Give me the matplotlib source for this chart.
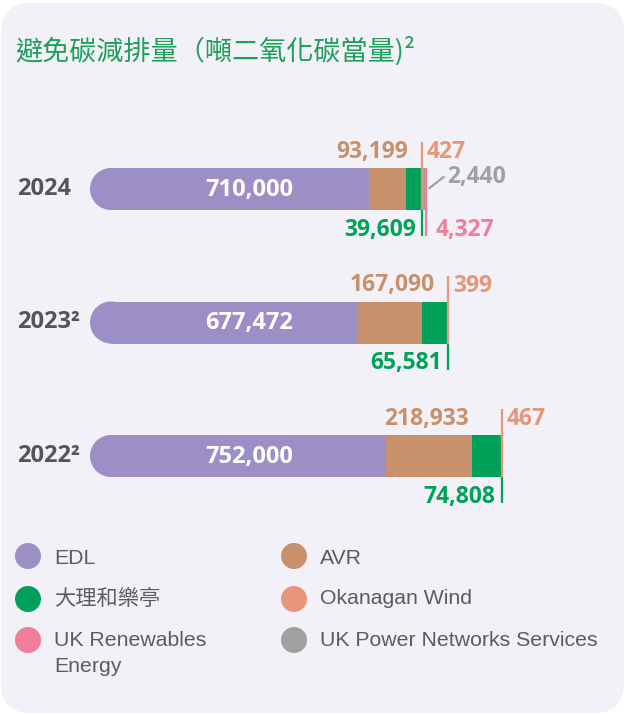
import matplotlib
matplotlib.use("Agg")
import matplotlib.pyplot as plt
from matplotlib.patches import FancyBboxPatch, Circle, Ellipse
from matplotlib import font_manager
import numpy as np

# ---------------- data ----------------
years = ["2024", "2023²", "2022²"]
edl = [710000, 677472, 752000]
avr = [93199, 167090, 218933]
tll = [39609, 65581, 74808]          # 大理和樂亭
okw = [427, 399, 467]                # Okanagan Wind
ukre = [4327, 0, 0]                  # UK Renewables Energy
ukpn = [2440, 0, 0]                  # UK Power Networks Services

edl_labels = ["710,000", "677,472", "752,000"]
avr_labels = ["93,199", "167,090", "218,933"]
tll_labels = ["39,609", "65,581", "74,808"]
okw_labels = ["427", "399", "467"]
ukre_label = "4,327"
ukpn_label = "2,440"

legend_names = ["EDL", "AVR", "大理和樂亭", "Okanagan Wind",
                ["UK Renewables", "Energy"], "UK Power Networks Services"]

title = "避免碳減排量（噸二氧化碳當量)²"

# ---------------- style ----------------
C_EDL = "#9b8fc5"
C_AVR = "#c8916b"
C_TLL = "#00a25a"
C_OKW = "#e8967a"
C_UKRE = "#ef7d9b"
C_UKPN = "#a0a0a0"
C_TITLE = "#1e9f5a"
C_YEAR = "#555555"
C_LEG = "#5c5c5c"
PANEL = "#f2f1f7"

def pick_bold():
    for fam in ["Open Sans", "Noto Sans", "Lato", "DejaVu Sans"]:
        try:
            p = font_manager.findfont(font_manager.FontProperties(family=fam, weight="bold"),
                                      fallback_to_default=False)
            if "bold" in p.lower():
                return fam
        except Exception:
            pass
    return "DejaVu Sans"

BFAM = pick_bold()

W, H = 627, 714
fig = plt.figure(figsize=(W / 100, H / 100), dpi=100)
fig.patch.set_facecolor("white")

axp = fig.add_axes([0, 0, 1, 1])
axp.set_xlim(0, W)
axp.set_ylim(H, 0)
axp.axis("off")
axp.add_patch(FancyBboxPatch((1, 3), W - 4, H - 4, boxstyle="round,pad=0,rounding_size=30",
                             fc=PANEL, ec="none"))

ax = fig.add_axes([0, 0, 1, 1])
ax.patch.set_alpha(0)
ax.axis("off")
x0_px = 90.0
s = 296.0 / 752000.0
ax.set_xlim(-x0_px / s, (W - x0_px) / s)
c0_px, step_px = 189.0, 133.5
ax.set_ylim((H - c0_px) / step_px, (0 - c0_px) / step_px)

ypos = np.arange(len(years))
bh = 42.0 / step_px
r_units = 21.0 / s

edl_a = np.array(edl, float)
avr_a = np.array(avr, float)
tll_a = np.array(tll, float)
okw_a = np.array(okw, float)
ukre_a = np.array(ukre, float)
ukpn_a = np.array(ukpn, float)

ax.barh(ypos, edl_a - r_units, left=r_units, height=bh, color=C_EDL, lw=0)
for y in ypos:
    ax.add_patch(Ellipse((r_units, y), 2 * r_units, bh, color=C_EDL, lw=0))
left = edl_a.copy()
for vals, col in [(avr_a, C_AVR), (tll_a, C_TLL), (okw_a, C_OKW), (ukre_a, C_UKRE), (ukpn_a, C_UKPN)]:
    ax.barh(ypos, vals, left=left, height=bh, color=col, lw=0)
    left = left + vals

px = 1.0 / step_px
bold = dict(family=BFAM, fontweight="bold")
lw_line = 1.6
FS = 16.5

for i, y in enumerate(ypos):
    avr_end = edl_a[i] + avr_a[i]
    tll_end = avr_end + tll_a[i]
    okw_end = tll_end + okw_a[i]
    axp.text(17, c0_px + step_px * i, years[i], ha="left", va="center", color=C_YEAR,
             fontsize=17, **bold)
    ax.text(159 / s, y + 1 * px, edl_labels[i], ha="center", va="center", color="white",
            fontsize=17, **bold)
    ax.vlines(okw_end, y - 47 * px, y + 21 * px, color=C_OKW, lw=lw_line)
    ax.vlines(tll_end, y + 21 * px, y + 47 * px, color=C_TLL, lw=lw_line)
    ax.annotate(avr_labels[i], (okw_end, y - 31 * px), xytext=(-14 if i < 2 else -33, 0),
                textcoords="offset pixels", ha="right", va="baseline", color=C_AVR,
                fontsize=FS, **bold)
    ax.annotate(okw_labels[i], (okw_end, y - 31 * px), xytext=(5, 0),
                textcoords="offset pixels", ha="left", va="baseline", color=C_OKW,
                fontsize=FS, **bold)
    ax.annotate(tll_labels[i], (tll_end, y + 47 * px), xytext=(-6, 0),
                textcoords="offset pixels", ha="right", va="baseline", color=C_TLL,
                fontsize=FS, **bold)

i = 0
ukre_start = edl_a[i] + avr_a[i] + tll_a[i] + okw_a[i]
ukre_mid = ukre_start + ukre_a[i] / 2
ukpn_end = ukre_start + ukre_a[i] + ukpn_a[i]
ax.vlines(ukre_mid + 3 / s, ypos[i] - 21 * px, ypos[i] + 47 * px, color=C_UKRE, lw=lw_line)
ax.annotate(ukre_label, (ukre_mid + 3 / s, ypos[i] + 47 * px), xytext=(10, 0),
            textcoords="offset pixels", ha="left", va="baseline", color=C_UKRE,
            fontsize=FS, **bold)
ax.plot([ukpn_end + 5 / s, ukpn_end + 19 / s], [ypos[i] - 1 * px, ypos[i] - 12 * px],
        color=C_UKPN, lw=lw_line)
ax.annotate(ukpn_label, (ukpn_end + 19 / s, ypos[i] - 12 * px), xytext=(4, 0),
            textcoords="offset pixels", ha="left", va="center", color=C_UKPN,
            fontsize=FS, **bold)

axp.text(15, 51, title, ha="left", va="center", color=C_TITLE, fontsize=19.5,
         family=["Noto Sans CJK TC", "DejaVu Sans"])

leg_cols = [C_EDL, C_AVR, C_TLL, C_OKW, C_UKRE, C_UKPN]
leg_x = [28, 294]
leg_y = [556, 599, 640]
for k, (name, col) in enumerate(zip(legend_names, leg_cols)):
    cx = leg_x[k % 2]
    cy = leg_y[k // 2]
    axp.add_patch(Circle((cx, cy), 13, color=col, lw=0))
    fam = ["Noto Sans CJK TC", "DejaVu Sans"] if k == 2 else ["Liberation Sans", "DejaVu Sans"]
    lines = name if isinstance(name, list) else [name]
    dy = 3 if k < 2 else 0
    for j, ln in enumerate(lines):
        axp.text(cx + 26, cy + dy + 27 * j, ln, ha="left", va="center",
                 color=C_LEG, fontsize=15.3, family=fam)

fig.savefig("out.png", dpi=100, facecolor=fig.get_facecolor())
